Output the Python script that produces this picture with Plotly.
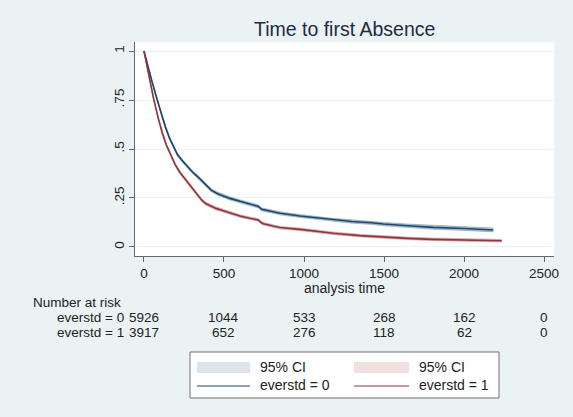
import plotly.graph_objects as go

# ---- data ----
t0 = [0, 25, 50, 83, 110, 135, 160, 185, 210, 240, 270, 300, 340, 370, 390, 420, 460, 537, 600, 660, 715, 735, 790, 850, 975, 1100, 1183, 1300, 1420, 1496, 1650, 1806, 2000, 2183]
s0 = [1.0, 0.92, 0.845, 0.75, 0.675, 0.61, 0.555, 0.51, 0.47, 0.44, 0.41, 0.385, 0.355, 0.33, 0.31, 0.29, 0.272, 0.248, 0.233, 0.221, 0.207, 0.192, 0.182, 0.172, 0.158, 0.146, 0.138, 0.130, 0.124, 0.117, 0.108, 0.100, 0.094, 0.087]
h0 = [0.0, 0.004, 0.006, 0.007, 0.007, 0.008, 0.008, 0.008, 0.008, 0.008, 0.008, 0.008, 0.008, 0.008, 0.008, 0.008, 0.008, 0.008, 0.008, 0.008, 0.008, 0.008, 0.008, 0.008, 0.008, 0.008, 0.008, 0.009, 0.009, 0.009, 0.009, 0.010, 0.010, 0.010]

t1 = [0, 20, 40, 62, 90, 115, 140, 165, 195, 225, 260, 298, 330, 360, 385, 412, 450, 496, 550, 600, 660, 715, 730, 746, 800, 850, 975, 1100, 1183, 1350, 1496, 1650, 1806, 2000, 2235]
s1 = [1.0, 0.915, 0.84, 0.75, 0.655, 0.58, 0.52, 0.47, 0.42, 0.38, 0.345, 0.308, 0.275, 0.240, 0.222, 0.210, 0.197, 0.185, 0.170, 0.158, 0.147, 0.138, 0.126, 0.119, 0.108, 0.099, 0.090, 0.078, 0.070, 0.058, 0.050, 0.044, 0.039, 0.035, 0.032]
h1 = [0.0, 0.004, 0.006, 0.007, 0.007, 0.008, 0.008, 0.008, 0.008, 0.008, 0.008, 0.008, 0.008, 0.008, 0.008, 0.008, 0.008, 0.008, 0.008, 0.007, 0.007, 0.007, 0.007, 0.007, 0.007, 0.007, 0.007, 0.007, 0.007, 0.007, 0.007, 0.007, 0.007, 0.007, 0.007]

x_ticks = [0, 500, 1000, 1500, 2000, 2500]
y_ticks = [0, 0.25, 0.5, 0.75, 1]
y_tick_labels = ["0", ".25", ".5", ".75", "1"]
risk_groups = ["everstd = 0", "everstd = 1"]
risk0 = [5926, 1044, 533, 268, 162, 0]
risk1 = [3917, 652, 276, 118, 62, 0]

title_text = "Time to first Absence"
x_title = "analysis time"

# ---- styling ----
BG = "#eaf2f3"
NAVY = "#1a476f"
MAROON = "#90353b"
FONT = "Liberation Sans"

L, R, T, B = 135, 19, 42, 161
W, H = 573, 417
PW, PH = W - L - R, H - T - B


def px(x):
    return (x - L) / PW


def py(y):
    return (H - B - y) / PH


fig = go.Figure()


def add_group(t, s, h, line_col, band_col):
    upper = [a + b for a, b in zip(s, h)]
    lower = [a - b for a, b in zip(s, h)]
    fig.add_trace(go.Scatter(x=t, y=upper, mode="lines", line=dict(width=0.8, color=band_col),
                             showlegend=False, hoverinfo="skip"))
    fig.add_trace(go.Scatter(x=t, y=lower, mode="lines", line=dict(width=0.8, color=band_col),
                             fill="tonexty", fillcolor=band_col, showlegend=False, hoverinfo="skip"))
    fig.add_trace(go.Scatter(x=t, y=s, mode="lines", line=dict(width=1.6, color=line_col),
                             showlegend=False))


add_group(t0, s0, h0, NAVY, "rgba(26,71,111,0.32)")
add_group(t1, s1, h1, MAROON, "rgba(144,53,59,0.30)")

TXT = dict(size=14, color="#222", family=FONT)
TBL = dict(size=13, color="#222", family=FONT)
annotations = []
annotations.append(dict(text=title_text, xref="paper", yref="paper", x=0.5, y=py(29),
                        xanchor="center", yanchor="middle", showarrow=False,
                        font=dict(size=19.5, color="#1e2a44", family=FONT)))
annotations.append(dict(text=x_title, xref="paper", yref="paper", x=px(344), y=py(288),
                        xanchor="center", yanchor="middle", showarrow=False, font=TXT))
annotations.append(dict(text="Number at risk", xref="paper", yref="paper", x=px(31), y=py(302),
                        xanchor="left", yanchor="middle", showarrow=False,
                        font=dict(size=13.5, color="#222", family=FONT)))
for name, row, yy in [(risk_groups[0], risk0, 317), (risk_groups[1], risk1, 332)]:
    annotations.append(dict(text=name, xref="paper", yref="paper", x=px(126), y=py(yy),
                            xanchor="right", yanchor="middle", showarrow=False,
                            font=dict(size=13.5, color="#222", family=FONT)))
    for xv, n in zip(x_ticks, row):
        annotations.append(dict(text=str(n), xref="x", yref="paper", x=xv, y=py(yy),
                                xanchor="center", yanchor="middle", showarrow=False,
                                font=dict(size=13.5, color="#222", family=FONT)))

# manual legend
shapes = []
shapes.append(dict(type="rect", xref="paper", yref="paper", x0=px(190), x1=px(499), y0=py(352), y1=py(398),
                   fillcolor="white", line=dict(color="#707070", width=1), layer="below"))
for sx0, sx1, tx, band, lc, lab in [(197, 250, 258, "#dce3ea", NAVY, risk_groups[0]),
                                    (354, 409, 417, "#f1e0e0", MAROON, risk_groups[1])]:
    shapes.append(dict(type="rect", xref="paper", yref="paper", x0=px(sx0), x1=px(sx1),
                       y0=py(362), y1=py(373), fillcolor=band, line=dict(width=0)))
    shapes.append(dict(type="line", xref="paper", yref="paper", x0=px(sx0), x1=px(sx1),
                       y0=py(386), y1=py(386), line=dict(color=lc, width=1.2)))
    annotations.append(dict(text="95% CI", xref="paper", yref="paper", x=px(tx), y=py(367),
                            xanchor="left", yanchor="middle", showarrow=False, font=TXT))
    annotations.append(dict(text=lab, xref="paper", yref="paper", x=px(tx), y=py(385),
                            xanchor="left", yanchor="middle", showarrow=False, font=TXT))

fig.update_layout(
    width=W, height=H,
    margin=dict(l=L, r=R, t=T, b=B, pad=0),
    paper_bgcolor=BG, plot_bgcolor="white",
    font=dict(family=FONT, size=13, color="#222"),
    showlegend=False,
    annotations=annotations, shapes=shapes,
    xaxis=dict(range=[-56, 2562], tickvals=x_ticks, ticks="outside", ticklen=5, tickcolor="#666",
               showline=True, linecolor="#666", linewidth=1, showgrid=False, zeroline=False,
               tickfont=dict(size=13.5, color="#222", family=FONT)),
    yaxis=dict(range=[-0.046, 1.046], tickvals=y_ticks, ticktext=y_tick_labels, tickangle=-90,
               ticks="outside", ticklen=5, tickcolor="#666", showline=True, linecolor="#666", linewidth=1,
               showgrid=True, gridcolor=BG, gridwidth=1, zeroline=False,
               tickfont=dict(size=13.5, color="#222", family=FONT)),
)

fig.write_html("out.html", config={"displayModeBar": False},
               post_script="document.body.style.margin='0';document.body.style.background='#eaf2f3';")
